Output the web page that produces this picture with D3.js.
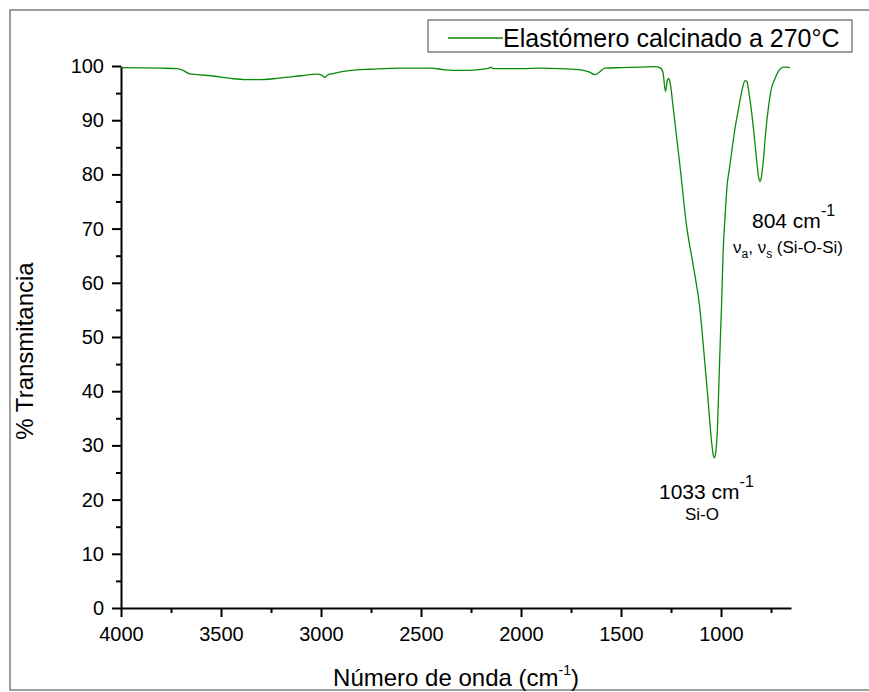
<!DOCTYPE html>
<html>
<head>
<meta charset="utf-8">
<script src="https://cdn.jsdelivr.net/npm/d3@7"></script>
<style>
  body { margin: 0; background: #fff; }
  text { font-family: "Liberation Sans", Arial, sans-serif; fill: #000; }
</style>
</head>
<body>
<script>
const waveNumbers = [4000, 3800, 3720, 3690, 3660, 3620, 3550, 3450, 3380, 3300, 3200, 3100, 3020, 2995, 2982, 2968, 2940, 2850, 2750, 2600, 2450, 2380, 2300, 2220, 2160, 2150, 2140, 2080, 2000, 1900, 1800, 1700, 1660, 1630, 1610, 1580, 1500, 1400, 1330, 1305, 1290, 1278, 1268, 1262, 1255, 1238, 1205, 1172, 1138, 1105, 1085, 1065, 1048, 1040, 1033, 1027, 1018, 1010, 1003, 997, 990, 980, 968, 960, 947, 930, 913, 895, 880, 870, 860, 847, 835, 822, 812, 805, 798, 788, 776, 764, 750, 730, 710, 690, 670, 655];
const transmittance = [99.7, 99.6, 99.5, 99.2, 98.6, 98.4, 98.2, 97.7, 97.5, 97.5, 97.8, 98.2, 98.5, 98.3, 97.9, 98.3, 98.6, 99.2, 99.4, 99.6, 99.6, 99.3, 99.2, 99.3, 99.6, 99.8, 99.5, 99.5, 99.5, 99.6, 99.5, 99.3, 98.9, 98.4, 98.8, 99.6, 99.7, 99.8, 99.9, 99.7, 98.8, 95.3, 97.4, 97.7, 97.0, 92.0, 81.5, 70.5, 63.0, 55.0, 47, 38.5, 31, 28.5, 27.7, 28.5, 33, 42, 50, 56, 65, 72, 78.5, 80.5, 84, 88.5, 92, 95.5, 97.3, 97.1, 95, 91.5, 87.5, 82.7, 79.5, 78.7, 79.5, 82.7, 88, 92, 95.5, 97.7, 99.2, 99.8, 99.8, 99.7];

const xMajor = [4000, 3500, 3000, 2500, 2000, 1500, 1000];
const xMinor = [3750, 3250, 2750, 2250, 1750, 1250, 750];
const yMajor = [0, 10, 20, 30, 40, 50, 60, 70, 80, 90, 100];
const yMinor = [5, 15, 25, 35, 45, 55, 65, 75, 85, 95];

const seriesName = "Elastómero calcinado a 270°C";

const width = 869, height = 692;
const svg = d3.select('body').append('svg')
    .attr('width', width)
    .attr('height', height);

// marco exterior
svg.append('rect')
    .attr('x', 10).attr('y', 10)
    .attr('width', 900).attr('height', 680)
    .attr('fill', 'none')
    .attr('stroke', '#7f7f7f')
    .attr('stroke-width', 1.5);

const x = d3.scaleLinear().domain([4000, 650]).range([121, 791]);
const y = d3.scaleLinear().domain([0, 100]).range([608, 66]);

const data = waveNumbers.map((w, i) => ({ w: w, t: transmittance[i] }));

// ejes
const xAxis = svg.append('g')
    .attr('transform', `translate(0,${y(0)})`)
    .call(d3.axisBottom(x).tickValues(xMajor).tickFormat(d3.format('d'))
        .tickSize(9).tickSizeOuter(0).tickPadding(7));
svg.append('g')
    .attr('transform', `translate(0,${y(0)})`)
    .call(d3.axisBottom(x).tickValues(xMinor).tickSize(5).tickSizeOuter(0).tickFormat(''))
    .select('.domain').remove();

const yAxis = svg.append('g')
    .attr('transform', `translate(${x(4000)},0)`)
    .call(d3.axisLeft(y).tickValues(yMajor).tickSize(9).tickSizeOuter(0).tickPadding(8));
svg.append('g')
    .attr('transform', `translate(${x(4000)},0)`)
    .call(d3.axisLeft(y).tickValues(yMinor).tickSize(5).tickSizeOuter(0).tickFormat(''))
    .select('.domain').remove();

svg.selectAll('.domain, .tick line')
    .attr('stroke', '#000')
    .attr('stroke-width', 2);
svg.selectAll('.tick text')
    .style('font-family', '"Liberation Sans", Arial, sans-serif')
    .style('font-size', '20px')
    .attr('fill', '#000');
xAxis.selectAll('.tick text').attr('dy', '0.85em');

// espectro
const line = d3.line()
    .x(d => x(d.w))
    .y(d => y(d.t))
    .curve(d3.curveMonotoneX);

svg.append('path')
    .datum(data)
    .attr('d', line)
    .attr('fill', 'none')
    .attr('stroke', '#0a8a0a')
    .attr('stroke-width', 1.3);

// titulos de ejes
const xTitle = svg.append('text')
    .attr('x', 456).attr('y', 686)
    .attr('text-anchor', 'middle')
    .style('font-size', '24px');
xTitle.append('tspan').text('Número de onda (cm');
xTitle.append('tspan').attr('dy', -11).style('font-size', '14px').text('-1');
xTitle.append('tspan').attr('dy', 11).text(')');

svg.append('text')
    .attr('transform', 'translate(33,351) rotate(-90)')
    .attr('text-anchor', 'middle')
    .style('font-size', '24px')
    .text('% Transmitancia');

// leyenda
svg.append('rect')
    .attr('x', 428).attr('y', 20)
    .attr('width', 424).attr('height', 32)
    .attr('fill', '#fff')
    .attr('stroke', '#444')
    .attr('stroke-width', 1);
svg.append('line')
    .attr('x1', 448).attr('x2', 503)
    .attr('y1', 38).attr('y2', 38)
    .attr('stroke', '#0a8a0a')
    .attr('stroke-width', 1.3);
svg.append('text')
    .attr('x', 503).attr('y', 47)
    .style('font-size', '25px')
    .text(seriesName);

// anotaciones de picos
const a804 = svg.append('text')
    .attr('x', 752).attr('y', 228)
    .style('font-size', '21px');
a804.append('tspan').text('804 cm');
a804.append('tspan').attr('dy', -12).style('font-size', '16px').text('-1');

const b804 = svg.append('text')
    .attr('x', 733).attr('y', 253)
    .style('font-size', '17px');
b804.append('tspan').text('ν');
b804.append('tspan').attr('dy', 5).style('font-size', '12px').text('a');
b804.append('tspan').attr('dy', -5).text(', ν');
b804.append('tspan').attr('dy', 5).style('font-size', '12px').text('s');
b804.append('tspan').attr('dy', -5).text(' (Si-O-Si)');

const a1033 = svg.append('text')
    .attr('x', 659).attr('y', 499)
    .style('font-size', '21px');
a1033.append('tspan').text('1033 cm');
a1033.append('tspan').attr('dy', -12).style('font-size', '16px').text('-1');

svg.append('text')
    .attr('x', 685).attr('y', 520)
    .style('font-size', '17px')
    .text('Si-O');
</script>
</body>
</html>
